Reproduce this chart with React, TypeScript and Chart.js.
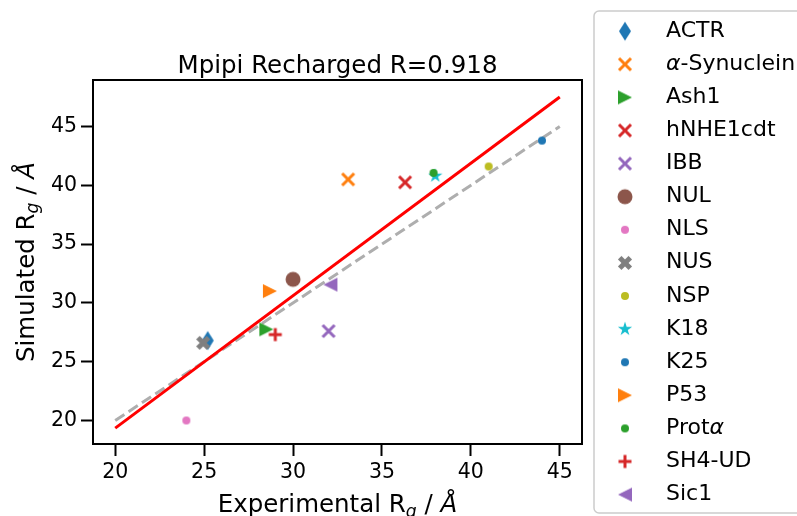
import React, { useEffect, useRef } from 'react';
import { Chart, registerables } from 'chart.js';
Chart.register(...registerables);

const FONT = "'DejaVu Sans', sans-serif";

const proteins = ['ACTR', 'α-Synuclein', 'Ash1', 'hNHE1cdt', 'IBB', 'NUL', 'NLS', 'NUS', 'NSP', 'K18', 'K25', 'P53', 'Protα', 'SH4-UD', 'Sic1'];
const experimentalRg = [25.2, 33.1, 28.5, 36.3, 32.0, 30.0, 24.0, 24.95, 41.0, 38.0, 44.0, 28.7, 37.9, 29.0, 32.1];
const simulatedRg = [26.8, 40.5, 27.75, 40.25, 27.6, 32.0, 20.0, 26.6, 41.6, 40.8, 43.8, 31.0, 41.05, 27.3, 31.55];
const colors = ['#1f77b4', '#ff7f0e', '#2ca02c', '#d62728', '#9467bd', '#8c564b', '#e377c2', '#7f7f7f', '#bcbd22', '#17becf', '#1f77b4', '#ff7f0e', '#2ca02c', '#d62728', '#9467bd'];
const markerShapes = ['thin_diamond', 'x', 'tri_right', 'x', 'x', 'circle', 'dot', 'X', 'dot', 'star', 'dot', 'tri_right', 'dot', 'plus', 'tri_left'];

const xTicks = [20, 25, 30, 35, 40, 45];
const yTicks = [20, 25, 30, 35, 40, 45];
const identityX = [20, 45];
const identityY = [20, 45];
const fitX = [20, 45];
const fitY = [19.35, 47.5];

const titleText = 'Mpipi Recharged R=0.918';

function makeMarker(shape: string, color: string): HTMLCanvasElement {
  const S = 26;
  const c = document.createElement('canvas');
  c.width = S;
  c.height = S;
  const ctx = c.getContext('2d')!;
  ctx.translate(S / 2, S / 2);
  ctx.fillStyle = color;
  ctx.strokeStyle = color;
  ctx.lineWidth = 3;
  ctx.lineCap = 'butt';
  ctx.beginPath();
  if (shape === 'thin_diamond') {
    ctx.moveTo(0, -9.5); ctx.lineTo(6, 0); ctx.lineTo(0, 9.5); ctx.lineTo(-6, 0); ctx.closePath(); ctx.fill();
  } else if (shape === 'x') {
    const r = 6;
    ctx.moveTo(-r, -r); ctx.lineTo(r, r); ctx.moveTo(-r, r); ctx.lineTo(r, -r); ctx.stroke();
  } else if (shape === 'plus') {
    const r = 6.5;
    ctx.moveTo(-r, 0); ctx.lineTo(r, 0); ctx.moveTo(0, -r); ctx.lineTo(0, r); ctx.stroke();
  } else if (shape === 'tri_right') {
    const r = 7;
    ctx.moveTo(r, 0); ctx.lineTo(-r, -r); ctx.lineTo(-r, r); ctx.closePath(); ctx.fill();
  } else if (shape === 'tri_left') {
    const r = 7;
    ctx.moveTo(-r, 0); ctx.lineTo(r, -r); ctx.lineTo(r, r); ctx.closePath(); ctx.fill();
  } else if (shape === 'circle') {
    ctx.arc(0, 0, 7.5, 0, Math.PI * 2); ctx.fill();
  } else if (shape === 'dot') {
    ctx.arc(0, 0, 4, 0, Math.PI * 2); ctx.fill();
  } else if (shape === 'X') {
    const k = 7.5 / 3;
    const pts = [[-1, -3], [-1, -1], [-3, -1], [-3, 1], [-1, 1], [-1, 3], [1, 3], [1, 1], [3, 1], [3, -1], [1, -1], [1, -3]];
    const a = Math.PI / 4;
    pts.forEach((p, i) => {
      const x = (p[0] * Math.cos(a) - p[1] * Math.sin(a)) * k;
      const y = (p[0] * Math.sin(a) + p[1] * Math.cos(a)) * k;
      if (i === 0) ctx.moveTo(x, y); else ctx.lineTo(x, y);
    });
    ctx.closePath(); ctx.fill();
  } else if (shape === 'star') {
    const R = 7.5, r = R * 0.381966;
    for (let i = 0; i < 10; i++) {
      const ang = -Math.PI / 2 + (i * Math.PI) / 5;
      const rr = i % 2 === 0 ? R : r;
      const x = rr * Math.cos(ang), y = rr * Math.sin(ang);
      if (i === 0) ctx.moveTo(x, y); else ctx.lineTo(x, y);
    }
    ctx.closePath(); ctx.fill();
  }
  return c;
}

type Seg = { text: string; italic?: boolean; scale?: number; dy?: number };

function drawRich(ctx: CanvasRenderingContext2D, segs: Seg[], x: number, y: number, size: number, align: 'center' | 'left' = 'center') {
  const fontFor = (s: Seg) => `${s.italic ? 'italic ' : ''}${size * (s.scale || 1)}px ${FONT}`;
  let total = 0;
  segs.forEach((s) => { ctx.font = fontFor(s); total += ctx.measureText(s.text).width; });
  let cx = align === 'center' ? x - total / 2 : x;
  ctx.textAlign = 'left';
  ctx.textBaseline = 'alphabetic';
  segs.forEach((s) => {
    ctx.font = fontFor(s);
    ctx.fillText(s.text, cx, y + (s.dy || 0) * size);
    cx += ctx.measureText(s.text).width;
  });
}

function labelSegs(name: string): Seg[] {
  const segs: Seg[] = [];
  let buf = '';
  for (const ch of name) {
    if (ch === 'α') {
      if (buf) segs.push({ text: buf });
      buf = '';
      segs.push({ text: 'α', italic: true });
    } else buf += ch;
  }
  if (buf) segs.push({ text: buf });
  return segs;
}

export default function App() {
  const ref = useRef<HTMLCanvasElement>(null);
  useEffect(() => {
    const markers = proteins.map((_, i) => makeMarker(markerShapes[i], colors[i]));
    const pointSets = proteins.map((name, i) => ({
      label: name,
      data: [{ x: experimentalRg[i], y: simulatedRg[i] }],
      pointStyle: markers[i] as any,
      pointRadius: 6,
      backgroundColor: colors[i],
      borderColor: colors[i],
      order: 20 - i,
    }));
    const lineSets = [
      {
        label: 'identity',
        data: identityX.map((x, i) => ({ x, y: identityY[i] })),
        showLine: true,
        pointRadius: 0,
        borderColor: '#aeaeae',
        borderWidth: 3,
        borderDash: [11, 5],
        order: 40,
      },
      {
        label: 'fit',
        data: fitX.map((x, i) => ({ x, y: fitY[i] })),
        showLine: true,
        pointRadius: 0,
        borderColor: '#ff0000',
        borderWidth: 3,
        order: 30,
      },
    ];

    const decor = {
      id: 'decor',
      afterDraw(chart: any) {
        const ctx = chart.ctx as CanvasRenderingContext2D;
        const a = chart.chartArea;
        ctx.save();
        ctx.strokeStyle = '#000';
        ctx.lineWidth = 2;
        ctx.strokeRect(a.left, a.top, a.right - a.left, a.bottom - a.top);
        ctx.fillStyle = '#000';
        const cx = (a.left + a.right) / 2;
        drawRich(ctx, [{ text: titleText }], cx, 72.5, 24.5);
        drawRich(ctx, [
          { text: 'Experimental R' },
          { text: 'g', italic: true, scale: 0.7, dy: 0.2 },
          { text: ' / ' },
          { text: 'Å', italic: true },
        ], cx, 512, 24.5);
        ctx.save();
        ctx.translate(33.5, (a.top + a.bottom) / 2);
        ctx.rotate(-Math.PI / 2);
        drawRich(ctx, [
          { text: 'Simulated R' },
          { text: 'g', italic: true, scale: 0.7, dy: 0.2 },
          { text: ' / ' },
          { text: 'Å', italic: true },
        ], 0, 0, 24.5);
        ctx.restore();

        // legend
        ctx.fillStyle = '#ffffff';
        ctx.strokeStyle = '#cccccc';
        ctx.lineWidth = 1.5;
        ctx.beginPath();
        (ctx as any).roundRect(594, 11, 240, 502, 5);
        ctx.fill();
        ctx.stroke();
        proteins.forEach((name, i) => {
          const y = 31.2 + i * 33.1;
          const m = markers[i];
          ctx.drawImage(m, 625 - m.width / 2, y - m.height / 2);
          ctx.fillStyle = '#000';
          drawRich(ctx, labelSegs(name), 666, y + 5.5, 22, 'left');
        });
        ctx.restore();
      },
    };

    const chart = new Chart(ref.current!, {
      type: 'scatter',
      data: { datasets: [...pointSets, ...lineSets] as any },
      plugins: [decor],
      options: {
        animation: false,
        responsive: false,
        devicePixelRatio: 1,
        layout: { padding: { left: 0, top: 80, right: 215, bottom: 0 } },
        plugins: { legend: { display: false }, tooltip: { enabled: false }, title: { display: false } },
        scales: {
          x: {
            type: 'linear',
            min: 18.75,
            max: 46.25,
            afterBuildTicks: (s: any) => { s.ticks = xTicks.map((v) => ({ value: v })); },
            afterFit: (s: any) => { s.height = 72; },
            border: { display: false },
            grid: { drawOnChartArea: false, drawTicks: true, tickLength: 12, tickWidth: 2, tickColor: '#000' },
            ticks: { color: '#000', font: { family: FONT, size: 20.5 }, padding: 4, maxRotation: 0 },
          },
          y: {
            type: 'linear',
            min: 18.0,
            max: 48.95,
            afterBuildTicks: (s: any) => { s.ticks = yTicks.map((v) => ({ value: v })); },
            afterFit: (s: any) => { s.width = 93; },
            border: { display: false },
            grid: { drawOnChartArea: false, drawTicks: true, tickLength: 12, tickWidth: 2, tickColor: '#000' },
            ticks: { color: '#000', font: { family: FONT, size: 20.5 }, padding: 4 },
          },
        },
      } as any,
    });
    return () => chart.destroy();
  }, []);
  return (
    <div style={{ position: 'absolute', left: 0, top: 0, width: 797, height: 516, background: '#fff' }}>
      <canvas ref={ref} width={797} height={516} />
    </div>
  );
}
